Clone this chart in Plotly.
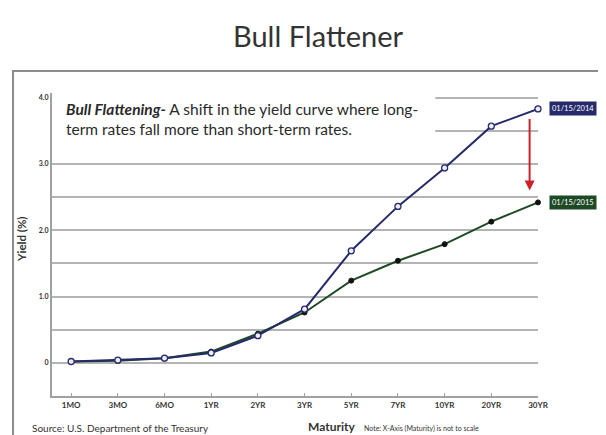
import plotly.graph_objects as go

maturities = ["1MO", "3MO", "6MO", "1YR", "2YR", "3YR", "5YR", "7YR", "10YR", "20YR", "30YR"]
yield_2014 = [0.02, 0.04, 0.07, 0.15, 0.41, 0.81, 1.69, 2.36, 2.94, 3.57, 3.83]
yield_2015 = [0.02, 0.03, 0.07, 0.17, 0.44, 0.76, 1.24, 1.54, 1.79, 2.13, 2.42]
label_2014 = "01/15/2014"
label_2015 = "01/15/2015"
y_tick_vals = [0, 0.5, 1, 1.5, 2, 2.5, 3, 3.5, 4]
y_tick_text = ["0", "", "1.0", "", "2.0", "", "3.0", "", "4.0"]

NAVY = "#262a6a"
GREEN = "#1d4a24"
FONT = "Lato, 'Open Sans', sans-serif"

xi = list(range(len(maturities)))

fig = go.Figure()
fig.add_trace(go.Scatter(
    x=xi, y=yield_2015, mode="lines+markers",
    line=dict(color=GREEN, width=2),
    marker=dict(size=5, color="#111111", line=dict(color="#111111", width=1)),
    showlegend=False, cliponaxis=False))
fig.add_trace(go.Scatter(
    x=xi, y=yield_2014, mode="lines+markers",
    line=dict(color=NAVY, width=2),
    marker=dict(size=6, color="#ececf5", line=dict(color=NAVY, width=1.3)),
    showlegend=False, cliponaxis=False))

# callout pointers for end labels
fig.add_trace(go.Scatter(
    x=[xi[-1] + 0.19, xi[-1] + 0.19], y=[yield_2014[-1], yield_2015[-1]],
    mode="markers", marker=dict(symbol="triangle-left", size=7, color=[NAVY, GREEN]),
    showlegend=False, cliponaxis=False, hoverinfo="skip"))

fig.add_annotation(x=xi[-1], y=yield_2014[-1], xref="x", yref="y", text=label_2014,
                   showarrow=False, xanchor="left", xshift=11,
                   font=dict(size=7.5, color="white", family=FONT),
                   bgcolor=NAVY, borderpad=2)
fig.add_annotation(x=xi[-1], y=yield_2015[-1], xref="x", yref="y", text=label_2015,
                   showarrow=False, xanchor="left", xshift=11,
                   font=dict(size=7.5, color="white", family=FONT),
                   bgcolor=GREEN, borderpad=2)

# red arrow
fig.add_annotation(x=9.82, y=2.6, ax=9.82, ay=3.7, xref="x", yref="y", axref="x", ayref="y",
                   text="", showarrow=True, arrowhead=2, arrowsize=1, arrowwidth=2,
                   arrowcolor="#cc2229")

# white box behind description
fig.add_shape(type="rect", xref="x", yref="y", x0=-0.41, x1=7.8, y0=3.22, y1=4.1,
              fillcolor="white", line=dict(width=0), layer="above")
fig.add_annotation(x=-0.16, y=4.0, xref="x", yref="y", xanchor="left", yanchor="top",
                   align="left", showarrow=False,
                   text="<b><i>Bull Flattening-</i></b> A shift in the yield curve where long-<br>term rates fall more than short-term rates.",
                   font=dict(size=15.5, color="#2a2a2a", family=FONT))

# outer frame
fig.add_shape(type="rect", xref="paper", yref="paper", x0=-0.0802, x1=1.3, y0=-0.4, y1=1.0726,
              line=dict(color="#8c8c8c", width=2), fillcolor="rgba(0,0,0,0)", layer="below")

# texts (paper coords relative to plot area)
fig.add_annotation(x=0.547, y=1.191, xref="paper", yref="paper", text="Bull Flattener",
                   showarrow=False, xanchor="center", yanchor="middle",
                   font=dict(size=29, color="#333333", family=FONT))
fig.add_annotation(x=-0.0617, y=0.515, xref="paper", yref="paper", text="<b>Yield (%)</b>",
                   showarrow=False, textangle=-90, xanchor="center", yanchor="middle",
                   font=dict(size=11.5, color="#333333", family=FONT))
fig.add_annotation(x=-0.0453, y=-0.106, xref="paper", yref="paper",
                   text="Source: U.S. Department of the Treasury", xanchor="left", yanchor="middle",
                   showarrow=False, font=dict(size=10, color="#333333", family=FONT))
fig.add_annotation(x=0.5226, y=-0.1, xref="paper", yref="paper",
                   text="<b>Maturity</b>", xanchor="left", yanchor="middle", showarrow=False,
                   font=dict(size=12, color="#333333", family=FONT))
fig.add_annotation(x=0.638, y=-0.108, xref="paper", yref="paper",
                   text="Note: X-Axis (Maturity) is not to scale", xanchor="left", yanchor="middle",
                   showarrow=False, font=dict(size=7, color="#333333", family=FONT))

fig.update_xaxes(
    range=[-0.41, 10.0], tickmode="array", tickvals=xi,
    ticktext=["<b>" + m + "</b>" for m in maturities],
    tickfont=dict(size=8, color="#333333", family=FONT),
    showline=True, linecolor="#a0a0a0", linewidth=2,
    ticks="inside", ticklen=3, tickcolor="#a0a0a0",
    showgrid=False, zeroline=False, fixedrange=True, automargin=False)
fig.update_yaxes(
    range=[-0.5, 4.07], tickmode="array", tickvals=y_tick_vals,
    ticktext=["<b>" + t + "</b>" if t else " " for t in y_tick_text],
    tickfont=dict(size=7, color="#333333", family=FONT),
    showline=True, linecolor="#a0a0a0", linewidth=2,
    showgrid=True, gridcolor="#b4b4b4", gridwidth=2, zeroline=False, ticks="",
    fixedrange=True, automargin=False)

# page body has an 8px default margin, so the figure is sized/offset to match the window
fig.update_layout(
    width=598, height=427,
    margin=dict(l=44, r=68, t=85, b=39),
    paper_bgcolor="white", plot_bgcolor="white",
    font=dict(family=FONT),
)

fig.write_html("out.html")
